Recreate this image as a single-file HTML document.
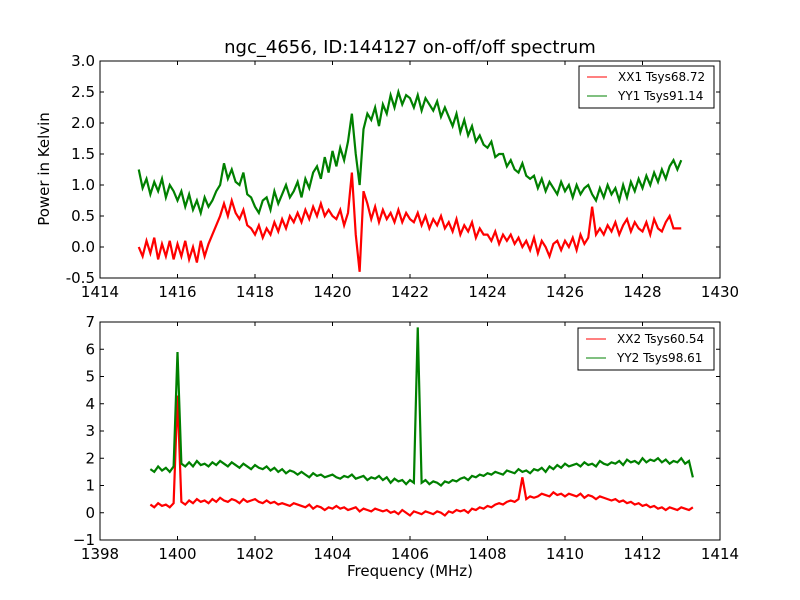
<!DOCTYPE html>
<html><head><meta charset="utf-8"><style>
body{margin:0;background:#fff;}
svg{display:block;font-family:"DejaVu Sans","Liberation Sans",sans-serif;}
</style></head><body>
<svg id="chart" width="800" height="600" viewBox="0 0 800 600"></svg>
<script>
const topFreqStart = 1415.0, topStep = 0.1;
const xx1 = [0.0,-0.15,0.1,-0.1,0.15,-0.2,0.05,-0.15,0.1,-0.2,
0.05,-0.15,0.1,-0.2,0.0,-0.25,0.1,-0.15,0.05,0.2,
0.35,0.5,0.7,0.5,0.75,0.55,0.45,0.6,0.35,0.3,
0.2,0.35,0.15,0.3,0.2,0.4,0.25,0.45,0.3,0.5,
0.4,0.55,0.4,0.6,0.45,0.65,0.5,0.7,0.5,0.6,
0.5,0.45,0.6,0.35,0.55,1.2,0.2,-0.4,0.9,0.7,
0.45,0.65,0.4,0.6,0.45,0.55,0.4,0.6,0.4,0.55,
0.45,0.4,0.55,0.35,0.5,0.3,0.45,0.35,0.5,0.3,
0.4,0.25,0.45,0.2,0.35,0.25,0.4,0.15,0.3,0.2,
0.2,0.1,0.25,0.05,0.2,0.1,0.2,0.05,0.15,0.0,
0.1,-0.05,0.15,-0.1,0.1,0.0,-0.15,0.05,0.1,-0.05,
0.1,0.0,0.15,-0.05,0.2,0.05,0.15,0.65,0.2,0.3,
0.2,0.35,0.25,0.4,0.2,0.35,0.45,0.25,0.4,0.3,
0.25,0.4,0.2,0.45,0.3,0.25,0.4,0.5,0.3,0.3,
0.3];
const yy1 = [1.25,0.95,1.1,0.85,1.05,0.9,1.1,0.8,1.0,0.9,
0.75,0.9,0.65,0.85,0.6,0.75,0.55,0.8,0.65,0.75,
0.9,1.0,1.35,1.1,1.25,1.05,1.0,1.2,0.85,0.8,
0.65,0.55,0.75,0.8,0.6,0.9,0.7,0.85,1.0,0.8,
0.9,1.05,0.8,1.1,0.95,1.2,1.3,1.1,1.45,1.2,
1.55,1.3,1.6,1.4,1.7,2.15,1.5,1.0,1.9,2.15,
2.05,2.25,1.95,2.3,2.15,2.45,2.25,2.5,2.3,2.45,
2.4,2.25,2.45,2.2,2.4,2.3,2.2,2.35,2.1,2.25,
2.1,1.95,2.15,1.85,2.05,1.8,1.95,1.7,1.8,1.65,
1.6,1.7,1.45,1.5,1.5,1.3,1.4,1.25,1.2,1.35,
1.15,1.1,1.15,0.95,1.1,0.9,1.05,0.95,0.85,1.05,
0.9,1.0,0.8,1.0,0.85,0.95,1.0,0.85,0.75,0.95,
0.8,1.0,0.85,0.95,0.75,1.0,0.8,1.05,0.9,1.1,
0.95,1.15,1.0,1.2,1.05,1.25,1.1,1.3,1.4,1.25,
1.4];
const botFreqStart = 1399.3, botStep = 0.1;
const xx2 = [0.3,0.2,0.35,0.25,0.3,0.2,0.35,4.3,0.4,0.3,
0.45,0.35,0.5,0.4,0.45,0.35,0.5,0.4,0.55,0.45,
0.4,0.5,0.45,0.35,0.5,0.4,0.45,0.5,0.4,0.35,
0.45,0.35,0.4,0.3,0.35,0.3,0.25,0.35,0.3,0.25,
0.2,0.3,0.15,0.25,0.2,0.1,0.2,0.15,0.25,0.15,
0.2,0.1,0.15,0.2,0.05,0.15,0.1,0.05,0.15,0.1,
0.05,0.1,0.0,0.05,-0.05,0.1,0.0,-0.1,0.05,0.0,
-0.05,0.05,0.0,-0.05,0.05,0.0,-0.1,0.05,0.0,0.1,
0.05,0.1,0.0,0.15,0.1,0.2,0.15,0.25,0.2,0.3,
0.35,0.3,0.4,0.45,0.4,0.5,1.3,0.5,0.6,0.55,
0.6,0.7,0.65,0.6,0.75,0.65,0.7,0.6,0.7,0.65,
0.6,0.7,0.55,0.65,0.6,0.5,0.6,0.55,0.5,0.45,
0.5,0.4,0.45,0.35,0.4,0.3,0.35,0.25,0.3,0.2,
0.25,0.15,0.2,0.1,0.2,0.15,0.1,0.2,0.15,0.1,
0.2];
const yy2 = [1.6,1.5,1.7,1.55,1.65,1.5,1.7,5.9,1.8,1.7,
1.85,1.7,1.9,1.75,1.8,1.7,1.85,1.75,1.9,1.8,
1.7,1.85,1.75,1.65,1.8,1.7,1.6,1.75,1.65,1.6,
1.7,1.55,1.65,1.5,1.6,1.45,1.55,1.5,1.4,1.5,
1.4,1.3,1.45,1.35,1.4,1.3,1.35,1.4,1.3,1.25,
1.35,1.3,1.4,1.25,1.3,1.35,1.2,1.3,1.25,1.35,
1.2,1.3,1.1,1.25,1.15,1.2,1.05,1.2,1.1,6.8,
1.1,1.2,1.05,1.15,1.1,1.0,1.15,1.1,1.2,1.15,
1.25,1.3,1.2,1.35,1.3,1.4,1.35,1.45,1.4,1.5,
1.45,1.4,1.55,1.5,1.45,1.6,1.5,1.55,1.45,1.6,
1.55,1.65,1.5,1.7,1.6,1.75,1.65,1.8,1.7,1.75,
1.8,1.7,1.85,1.75,1.8,1.7,1.9,1.8,1.75,1.85,
1.8,1.9,1.75,1.95,1.85,1.9,1.8,2.0,1.85,1.95,
1.9,2.0,1.85,1.95,1.8,1.9,1.85,2.0,1.8,1.9,
1.3];
const topXTicks = [1414,1416,1418,1420,1422,1424,1426,1428,1430];
const topYTicks = ["-0.5","0.0","0.5","1.0","1.5","2.0","2.5","3.0"];
const botXTicks = [1398,1400,1402,1404,1406,1408,1410,1412,1414];
const botYTicks = ["\u22121","0","1","2","3","4","5","6","7"];
const botYVals = [-1,0,1,2,3,4,5,6,7];

const NS = "http://www.w3.org/2000/svg";
const svg = document.getElementById('chart');
function mk(tag, attrs, parent, text){
  const e = document.createElementNS(NS, tag);
  for (const k in attrs) e.setAttribute(k, attrs[k]);
  if (text !== undefined) e.textContent = text;
  (parent||svg).appendChild(e);
  return e;
}
function panel(name, box, xr, yr, xticks, yvals, ylabels, series, legend){
  const g = mk('g', {});
  
  
  const sx = v => box.x + (v - xr[0]) / (xr[1] - xr[0]) * box.w;
  const sy = v => box.y + box.h - (v - yr[0]) / (yr[1] - yr[0]) * box.h;
  const clipId = name + '-clip';
  const cp = mk('clipPath', {id: clipId}, g);
  mk('rect', {x: box.x, y: box.y, width: box.w, height: box.h}, cp);
  series.forEach(s => {
    let d = '';
    s.vals.forEach((v, i) => {
      const f = s.start + i * s.step;
      d += (i ? 'L' : 'M') + sx(f).toFixed(2) + ',' + sy(v).toFixed(2);
    });
    const p = mk('path', {d: d, fill: 'none', stroke: s.color, 'stroke-width': 2.2, 'stroke-linejoin': 'miter', 'clip-path': 'url(#' + clipId + ')'}, g);
    
    
  });
  mk('rect', {x: box.x, y: box.y, width: box.w, height: box.h, fill: 'none', stroke: '#000', 'stroke-width': 1}, g);
  xticks.forEach(t => {
    const x = sx(t);
    mk('line', {x1: x, x2: x, y1: box.y + box.h, y2: box.y + box.h - 4, stroke: '#000'}, g);
    mk('line', {x1: x, x2: x, y1: box.y, y2: box.y + 4, stroke: '#000'}, g);
    const tx = mk('text', {x: x, y: box.y + box.h + 19, 'text-anchor': 'middle', 'font-size': 15}, g, String(t));
    
    
  });
  yvals.forEach((t, i) => {
    const y = sy(t);
    mk('line', {x1: box.x, x2: box.x + 4, y1: y, y2: y, stroke: '#000'}, g);
    mk('line', {x1: box.x + box.w, x2: box.x + box.w - 4, y1: y, y2: y, stroke: '#000'}, g);
    const tx = mk('text', {x: box.x - 5, y: y + 5, 'text-anchor': 'end', 'font-size': 15}, g, ylabels[i]);
    
    
  });
  const lg = mk('g', {}, g);
  
  
  mk('rect', {x: legend.x, y: legend.y, width: legend.w, height: 42, fill: '#fff', stroke: '#000'}, lg);
  series.forEach((s, i) => {
    const y = legend.y + 11 + i * 19;
    mk('line', {x1: legend.x + 8, x2: legend.x + 28, y1: y, y2: y, stroke: s.color, 'stroke-width': 1}, lg);
    const t = mk('text', {x: legend.x + 39, y: y + 4, 'font-size': 12}, lg, s.label);
    
    
  });
}
panel('top-panel', {x: 100, y: 61, w: 620, h: 217}, [1414, 1430], [-0.5, 3.0],
  topXTicks, topYTicks.map(Number), topYTicks,
  [{name: 'xx1-line', label: 'XX1 Tsys68.72', color: '#ff0000', vals: xx1, start: topFreqStart, step: topStep},
   {name: 'yy1-line', label: 'YY1 Tsys91.14', color: '#008000', vals: yy1, start: topFreqStart, step: topStep}],
  {x: 579, y: 66, w: 135});
panel('bottom-panel', {x: 100, y: 322, w: 620, h: 218}, [1398, 1414], [-1, 7],
  botXTicks, botYVals, botYTicks,
  [{name: 'xx2-line', label: 'XX2 Tsys60.54', color: '#ff0000', vals: xx2, start: botFreqStart, step: botStep},
   {name: 'yy2-line', label: 'YY2 Tsys98.61', color: '#008000', vals: yy2, start: botFreqStart, step: botStep}],
  {x: 578, y: 328, w: 136});
const title = mk('text', {x: 410, y: 53, 'text-anchor': 'middle', 'font-size': 18}, svg, 'ngc_4656, ID:144127 on-off/off spectrum');


const yl = mk('text', {x: 0, y: 0, 'text-anchor': 'middle', 'font-size': 15, transform: 'translate(49,169) rotate(-90)'}, svg, 'Power in Kelvin');


const xl = mk('text', {x: 410, y: 576, 'text-anchor': 'middle', 'font-size': 15}, svg, 'Frequency (MHz)');


</script>
</body></html>
